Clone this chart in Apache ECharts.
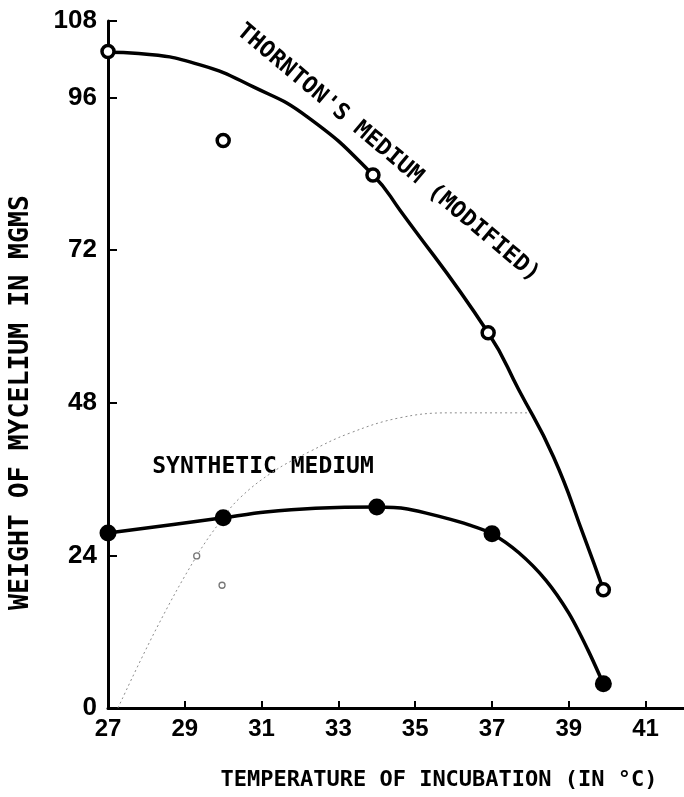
<!DOCTYPE html>
<html>
<head>
<meta charset="utf-8">
<style>
html,body{margin:0;padding:0;background:#fff;}
#chart{width:684px;height:797px;}
</style>
<script src="https://cdn.jsdelivr.net/npm/echarts@6/dist/echarts.min.js"></script>
</head>
<body>
<div id="chart"></div>
<script>
// ---- data ----
const xTickValues = [27, 29, 31, 33, 35, 37, 39, 41];
const yTickValues = [0, 24, 48, 72, 96, 108];
const yTickMarks = [24, 48, 72, 96, 108];

// Thornton's medium (modified): measured points (open circles)
const thorntonX = [27, 33.9, 36.9, 39.9];
const thorntonY = [103.2, 83.8, 59.0, 18.6];
// stray open circle
const thorntonStrayX = [30];
const thorntonStrayY = [89.2];
// hand-drawn curve
const thorntonCurveX = [27, 27.8, 29.4, 30.8, 32.2, 33.9, 34.6, 36.9, 37.7, 38.6, 39.4, 39.9];
const thorntonCurveY = [103.1, 102.9, 101.1, 97.6, 92.9, 83.8, 78.3, 59.0, 50.0, 39.5, 26.9, 18.6];

// Synthetic medium: measured points (filled circles)
const synthX = [27, 30, 34, 37, 39.9];
const synthY = [27.5, 29.9, 31.6, 27.4, 3.8];
const synthCurveX = [27, 30, 31.1, 32.4, 34.0, 34.8, 35.7, 36.4, 37.0, 37.7, 38.4, 39.0, 39.5, 39.9];
const synthCurveY = [27.5, 29.9, 30.8, 31.4, 31.6, 31.3, 30.0, 28.8, 27.4, 24.4, 20.1, 14.9, 9.1, 3.8];

// faint dotted trace in the background
const faintX = [27.26, 28.27, 29.31, 29.96, 30.43, 31.29, 32.25, 33.29, 34.58, 35.88, 38.04];
const faintY = [0, 12.6, 23.9, 29.6, 33.0, 37.1, 40.3, 43.2, 45.6, 46.4, 46.4];
const faintMarkX = [29.31, 29.97];
const faintMarkY = [23.9, 19.3];

const xTitle = 'TEMPERATURE OF INCUBATION (IN °C)';
const yTitle = 'WEIGHT OF MYCELIUM IN MGMS';
const thorntonLabel = "THORNTON'S MEDIUM (MODIFIED)";
const synthLabel = 'SYNTHETIC MEDIUM';

const zip = (a, b) => a.map((v, i) => [v, b[i]]);

const numFont = "'Liberation Sans', Arial, sans-serif";
const monoFont = "'DejaVu Sans Mono', 'Liberation Mono', monospace";

const chart = echarts.init(document.getElementById('chart'), null, {renderer: 'canvas'});

const option = {
  animation: false,
  backgroundColor: '#ffffff',
  grid: {left: 108, right: 0, top: 21, bottom: 89, outerBoundsMode: 'none'},
  xAxis: {
    type: 'value', min: 27, max: 42, interval: 1,
    axisLine: {show: true, onZero: false, lineStyle: {color: '#000', width: 3}},
    axisTick: {show: true, inside: true, length: 7, customValues: xTickValues, lineStyle: {color: '#000', width: 2}},
    axisLabel: {customValues: xTickValues, color: '#000', fontSize: 24, fontWeight: 'bold', fontFamily: numFont, margin: 9},
    splitLine: {show: false},
    name: xTitle, nameLocation: 'middle', nameGap: 61,
    nameTextStyle: {color: '#000', fontSize: 22, fontWeight: 'bold', fontFamily: monoFont, padding: [0, 0, 0, 86]}
  },
  yAxis: {
    type: 'value', min: 0, max: 108, interval: 12,
    axisLine: {show: true, onZero: false, lineStyle: {color: '#000', width: 3}},
    axisTick: {show: true, inside: true, length: 9, customValues: yTickMarks, lineStyle: {color: '#000', width: 2}},
    axisLabel: {customValues: yTickValues, color: '#000', fontSize: 26, fontWeight: 'bold', fontFamily: numFont, margin: 11},
    splitLine: {show: false},
    name: yTitle, nameLocation: 'middle', nameGap: 73, nameRotate: 90,
    nameTextStyle: {color: '#000', fontSize: 26.5, fontWeight: 'bold', fontFamily: monoFont, padding: [0, 76, 0, 0]}
  },
  graphic: [
    {
      type: 'text', x: 388, y: 153, rotation: -40 * Math.PI / 180,
      style: {text: thorntonLabel, x: 0, y: 0, align: 'center', verticalAlign: 'middle',
        fill: '#000', font: "bold 23px 'DejaVu Sans Mono', 'Liberation Mono', monospace"}
    },
    {
      type: 'text', x: 263, y: 467,
      style: {text: synthLabel, x: 0, y: 0, align: 'center', verticalAlign: 'middle',
        fill: '#000', font: "bold 23px 'DejaVu Sans Mono', 'Liberation Mono', monospace"}
    }
  ],
  series: [
    {
      name: 'faint trace', type: 'line', data: zip(faintX, faintY), smooth: 0.4, showSymbol: false, silent: true, z: 1,
      lineStyle: {color: '#8c8c8c', width: 1, type: [2, 3]}
    },
    {
      name: 'faint marks', type: 'scatter', data: zip(faintMarkX, faintMarkY), symbol: 'circle', symbolSize: 6, silent: true, z: 1,
      itemStyle: {color: '#fff', borderColor: '#777', borderWidth: 1.3, opacity: 1}
    },
    {
      name: "Thornton's medium curve", type: 'line', data: zip(thorntonCurveX, thorntonCurveY), smooth: 0.5, showSymbol: false, z: 2,
      lineStyle: {color: '#000', width: 3.5}
    },
    {
      name: 'Synthetic medium curve', type: 'line', data: zip(synthCurveX, synthCurveY), smooth: 0.3, showSymbol: false, z: 2,
      lineStyle: {color: '#000', width: 3.5}
    },
    {
      name: "Thornton's medium", type: 'scatter', data: zip(thorntonX, thorntonY), symbol: 'circle', symbolSize: 12, z: 3,
      itemStyle: {color: '#fff', borderColor: '#000', borderWidth: 3.5, opacity: 1}
    },
    {
      name: "Thornton's medium (stray)", type: 'scatter', data: zip(thorntonStrayX, thorntonStrayY), symbol: 'circle', symbolSize: 12, z: 3,
      itemStyle: {color: '#fff', borderColor: '#000', borderWidth: 3.5, opacity: 1}
    },
    {
      name: 'Synthetic medium', type: 'scatter', data: zip(synthX, synthY), symbol: 'circle', symbolSize: 17, z: 3,
      itemStyle: {color: '#000', opacity: 1}
    }
  ]
};
chart.setOption(option);
</script>
</body>
</html>
